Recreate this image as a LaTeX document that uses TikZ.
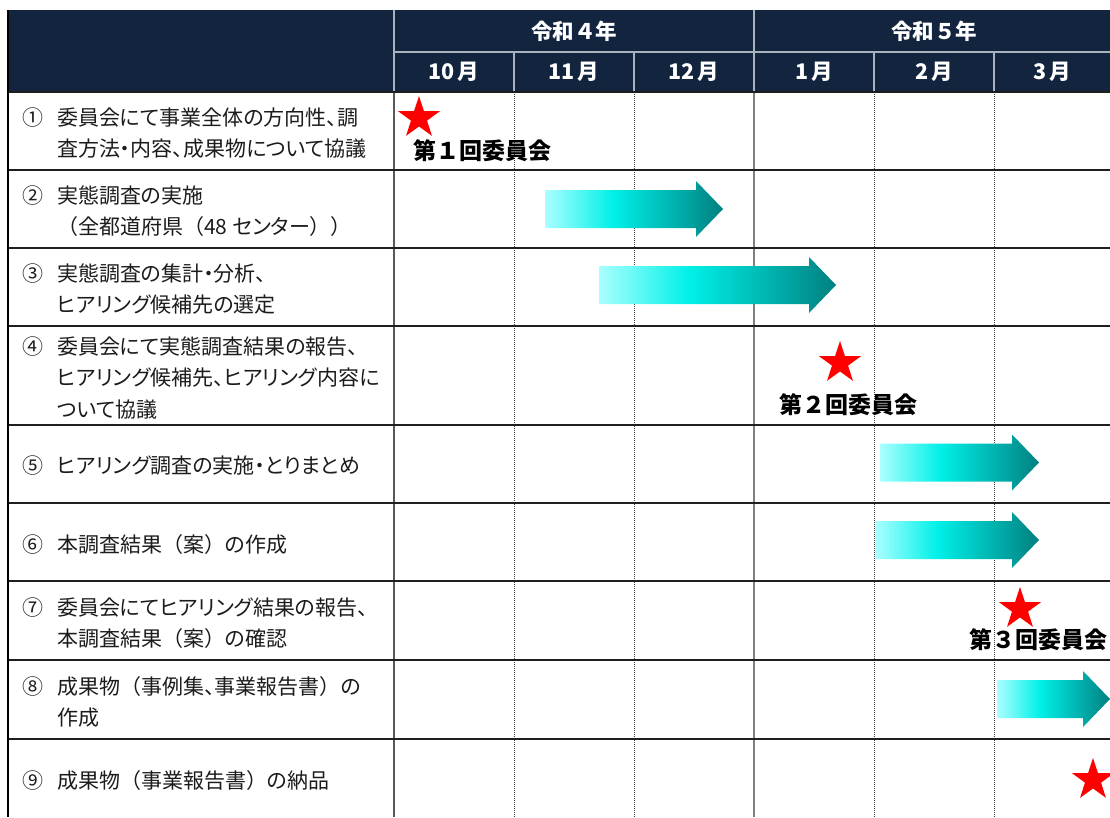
\documentclass[tikz,border=0pt]{standalone}
\usepackage{fontspec}
\usetikzlibrary{shapes.geometric}
\setmainfont{Noto Sans CJK JP}[RawFeature={+palt}]
\newfontfamily\jpf{Noto Sans CJK JP}
\definecolor{hdr}{RGB}{19,36,63}
\definecolor{hline}{RGB}{170,178,190}
\definecolor{txt}{RGB}{28,28,28}
\definecolor{ga}{RGB}{170,255,255}
\definecolor{gb}{RGB}{0,240,232}
\definecolor{gc}{RGB}{0,128,128}
\pgfdeclarehorizontalshading{gshade}{100bp}{color(0bp)=(ga); color(25bp)=(ga); color(44bp)=(gb); color(75bp)=(gc); color(100bp)=(gc)}
\newcommand\nbx[1]{\makebox[35pt][l]{\jpf #1}}
\newcommand\ind{\hspace*{35pt}}
\newcommand\fp[1]{{\jpf #1}}
\newcommand\garrow[3]{% x start, x tip, y center
  \shade[shading=gshade] (#1,{#3-19}) -- ({#2-27},{#3-19}) -- ({#2-27},{#3-28}) -- (#2,#3) -- ({#2-27},{#3+28}) -- ({#2-27},{#3+19}) -- (#1,{#3+19}) -- cycle;}
\tikzset{
  lbl/.style={anchor=west, inner sep=0pt, align=left, text=txt, font=\fontsize{21}{31.5}\selectfont},
  hd/.style={inner sep=0pt, text=white, font=\jpf\bfseries\fontsize{21.5}{25}\selectfont},
  mtg/.style={inner sep=0pt, text=black, font=\jpf\bfseries\fontsize{23}{27}\selectfont},
  redstar/.style={star, star points=5, star point ratio=2.6, fill=red, draw=none, inner sep=0pt, minimum size=44pt},
  hgrid/.style={draw=hline, line width=1.2pt},
  rowline/.style={draw=black!88, line width=1.3pt},
  dotline/.style={draw=black!75, line width=0.8pt, dash pattern=on 1pt off 1pt},
}
\begin{document}
\begin{tikzpicture}[x=1pt,y=-1pt]
\useasboundingbox (0,0) rectangle (1110,817);
\clip (0,0) rectangle (1110,817);
% header
\fill[hdr] (8,10) rectangle (1112,92);
\draw[hgrid] (394,52) -- (1112,52);
\draw[hgrid] (394,10) -- (394,92);
\draw[hgrid] (754,10) -- (754,92);
\foreach \x in {514,634,874,994} \draw[hgrid] (\x,52) -- (\x,92);
% body grid
\foreach \x in {514,634,874,994} \draw[dotline] (\x,92) -- (\x,817);
\draw[draw=black!65, line width=1.5pt] (394,92) -- (394,817);
\draw[draw=black!50, line width=2pt] (754,92) -- (754,817);
\foreach \y in {92,170,248,326,425,503,581,660,739} \draw[rowline] (8,\y) -- (1112,\y);
\draw[draw=black, line width=1.5pt] (8,10) -- (8,817);
% header texts
\node[hd] (y4) at (574,31) {令和４年};
\node[hd] (y5) at (934,31) {令和５年};
\node[hd] (m10) at (454,72) {10\kern3pt月};
\node[hd] (m11) at (574,72) {11\kern3pt月};
\node[hd] (m12) at (694,72) {12\kern3pt月};
\node[hd] (m1) at (814,72) {1\kern3pt月};
\node[hd] (m2) at (934,72) {2\kern3pt月};
\node[hd] (m3) at (1052,72) {3\kern3pt月};
% row labels
\node[lbl] (t1) at (22,133) {\nbx{①}委員会にて事業全体の方向性、調\\\ind 査方法・内容、成果物について協議};
\node[lbl] (t2) at (22,211) {\nbx{②}実態調査の実施\\\ind\fp{（}全都道府県\fp{（}48 センター\fp{）}\fp{）}};
\node[lbl] (t3) at (22,289) {\nbx{③}実態調査の集計・分析、\\\ind ヒアリング候補先の選定};
\node[lbl] (t4) at (22,378) {\nbx{④}委員会にて実態調査結果の報告、\\\ind ヒアリング候補先、ヒアリング内容に\\\ind ついて協議};
\node[lbl] (t5) at (22,466) {\nbx{⑤}ヒアリング調査の実施・とりまとめ};
\node[lbl] (t6) at (22,545) {\nbx{⑥}本調査結果\fp{（}案\fp{）}の作成};
\node[lbl] (t7) at (22,623) {\nbx{⑦}委員会にてヒアリング結果の報告、\\\ind 本調査結果\fp{（}案\fp{）}の確認};
\node[lbl] (t8) at (22,702) {\nbx{⑧}成果物\fp{（}事例集、事業報告書\fp{）}の\\\ind 作成};
\node[lbl] (t9) at (22,781) {\nbx{⑨}成果物\fp{（}事業報告書\fp{）}の納品};
% arrows
\garrow{545}{723}{209}
\garrow{599}{836}{285}
\garrow{880}{1039}{462.5}
\garrow{875}{1039}{540}
\garrow{997}{1110}{699}
% stars and meetings
\node[redstar] (s1) at (419,118) {};
\node[redstar] (s2) at (840,363) {};
\node[redstar] (s3) at (1020,609) {};
\node[redstar] (s4) at (1093,780) {};
\node[mtg] (c1) at (482,151) {第１回委員会};
\node[mtg] (c2) at (848,405) {第２回委員会};
\node[mtg] (c3) at (1038,640) {第３回委員会};
\end{tikzpicture}
\end{document}
